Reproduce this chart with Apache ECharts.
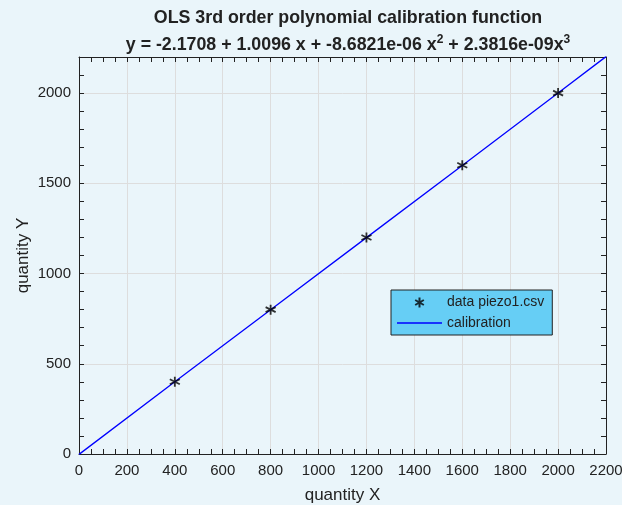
<!DOCTYPE html>
<html><head><meta charset="utf-8">
<script src="https://cdn.jsdelivr.net/npm/echarts@6/dist/echarts.min.js"></script>
<style>html,body{margin:0;padding:0;background:#eaf5fa;}#c{width:622px;height:505px;}</style>
</head><body><div id="c"></div>
<script>
const dataX = [400, 800, 1200, 1600, 2000];
const dataY = [400, 800, 1200, 1600, 2000];
const calX = [0, 400, 800, 1200, 1600, 2000, 2200];
const calY = [-2, 400, 799, 1199, 1599, 2001, 2202];
const xTicks = [0,200,400,600,800,1000,1200,1400,1600,1800,2000,2200];
const yTicks = [0,500,1000,1500,2000];

const chart = echarts.init(document.getElementById('c'));
const font = 'Arial, "Liberation Sans", sans-serif';
const star = 'path://M0,-5L0,5M-4.33,-2.5L4.33,2.5M-4.33,2.5L4.33,-2.5';
const tickLen = 5;
function xAx(pos, interval, main) {
  return {type:'value', min:0, max:2200, interval:interval, position:pos,
    axisLine:{show:main, onZero:false, lineStyle:{color:'#222', width:1}},
    axisTick:{show:true, inside:true, length:tickLen, lineStyle:{color:'#222'}},
    axisLabel:{show:false}, splitLine:{show:false}};
}
function yAx(pos, interval, main) {
  return {type:'value', min:0, max:2200, interval:interval, position:pos,
    axisLine:{show:main, onZero:false, lineStyle:{color:'#222', width:1}},
    axisTick:{show:true, inside:true, length:tickLen, lineStyle:{color:'#222'}},
    axisLabel:{show:false}, splitLine:{show:false}};
}
const xMain = xAx('bottom', 200, true);
Object.assign(xMain, {name:'quantity X', nameLocation:'middle', nameGap:33, nameMoveOverlap:false,
  nameTextStyle:{fontFamily:font, fontSize:17, color:'#222'},
  axisLabel:{show:true, fontFamily:font, fontSize:15, color:'#222', margin:9,
    formatter:v=>xTicks.includes(v)?String(v):''},
  splitLine:{show:true, lineStyle:{color:'#dddddd'}}});
const yMain = yAx('left', 500, true);
Object.assign(yMain, {name:'quantity Y', nameLocation:'middle', nameGap:47, nameMoveOverlap:false,
  nameTextStyle:{fontFamily:font, fontSize:17, color:'#222'},
  axisLabel:{show:true, fontFamily:font, fontSize:15, color:'#222', margin:8,
    formatter:v=>yTicks.includes(v)?String(v):''},
  splitLine:{show:true, lineStyle:{color:'#dddddd'}}});

chart.setOption({
  backgroundColor:'#eaf5fa',
  animation:false,
  title:[
    {text:'OLS 3rd order polynomial calibration function', left:343, top:4, textAlign:'center',
     textStyle:{fontFamily:font, fontSize:17.8, fontWeight:'bold', color:'#222'}},
    {text:'{n|y = -2.1708 + 1.0096 x + -8.6821e-06 x}{s|2}{n| + 2.3816e-09x}{s|3}', left:343, top:29, textAlign:'center',
     textStyle:{rich:{n:{fontFamily:font, fontSize:17.8, fontWeight:'bold', color:'#222'},
                      s:{fontFamily:font, fontSize:12, fontWeight:'bold', color:'#222', verticalAlign:'top', padding:[0,0,10,0]}}}}
  ],
  grid:{left:79, right:16, top:57, bottom:51, outerBoundsMode:'none', containLabel:false},
  xAxis:[xMain, xAx('top', 200, true), xAx('bottom', 50, false), xAx('top', 50, false)],
  yAxis:[yMain, yAx('right', 500, true), yAx('left', 100, false), yAx('right', 100, false)],
  legend:{orient:'vertical', left:391, top:290,
    backgroundColor:'#66cef5', borderColor:'#222', borderWidth:1, borderRadius:0,
    padding:[5,8,5,6], itemGap:6, itemWidth:45, itemHeight:10,
    textStyle:{fontFamily:font, fontSize:14, color:'#222'},
    data:[{name:'data piezo1.csv'},
          {name:'calibration', icon:'path://M0,0L45,0L45,1.4L0,1.4Z', itemStyle:{color:'#0000ff'}}]},
  series:[
    {name:'calibration', type:'line', xAxisIndex:0, yAxisIndex:0,
     data:calX.map((x,i)=>[x,calY[i]]), symbol:'none', smooth:false,
     lineStyle:{color:'#0000ff', width:1.3}, itemStyle:{color:'#0000ff'}, z:2},
    {name:'data piezo1.csv', type:'scatter', xAxisIndex:0, yAxisIndex:0,
     data:dataX.map((x,i)=>[x,dataY[i]]), symbol:star, symbolSize:10,
     itemStyle:{color:'none', borderColor:'#000', borderWidth:1.8}, z:3}
  ]
});
</script></body></html>
